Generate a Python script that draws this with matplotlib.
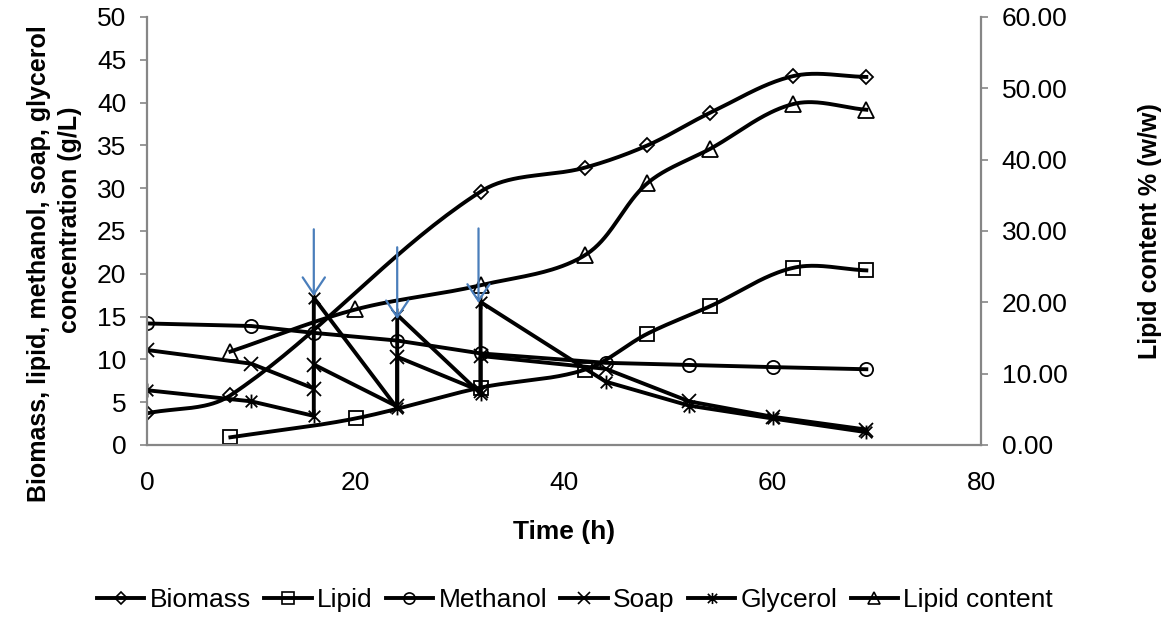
import numpy as np
import matplotlib
matplotlib.use("Agg")
import matplotlib.pyplot as plt
from matplotlib.lines import Line2D
from matplotlib.path import Path

plt.rcParams["font.family"] = ["Liberation Sans", "DejaVu Sans"]

# Biomass / lipid / lipid content (smoothed series)
time_biomass = [0, 8, 32, 42, 48, 54, 62, 69]
biomass = [3.7, 5.8, 29.6, 32.4, 35.0, 38.8, 43.1, 43.0]

time_lipid = [8, 20, 32, 42, 48, 54, 62, 69]
lipid = [0.9, 3.1, 6.7, 8.8, 13.0, 16.2, 20.7, 20.4]
lipid_content = [13.1, 19.0, 22.4, 26.6, 36.7, 41.5, 47.8, 47.0]

# Methanol
time_methanol = [0, 10, 16, 24, 32, 44, 52, 60, 69]
methanol = [14.2, 13.9, 13.1, 12.2, 10.7, 9.6, 9.35, 9.1, 8.85]

# Soap and glycerol (before/after each feed at 16, 24, 32 h)
time_feed = [0, 10, 16, 16, 24, 24, 32, 32, 44, 52, 60, 69]
soap = [11.1, 9.5, 6.6, 9.4, 4.5, 10.3, 6.3, 10.4, 8.9, 5.1, 3.3, 1.8]
glycerol = [6.4, 5.1, 3.4, 17.2, 4.3, 15.2, 6.0, 16.7, 7.4, 4.6, 3.1, 1.5]

# Feeding arrows: x, top, tip
feed_x = [16, 24, 31.8]
feed_top = [25.2, 23.1, 25.3]
feed_tip = [17.4, 14.7, 16.6]

BLACK = "#000000"
GRAY = "#868686"
BLUE = "#4A7EBB"
FS = 19


def smooth(axis, xs, ys, n=40):
    # Excel-like smoothed line, built in screen space so arm lengths follow segment lengths
    pts = axis.transData.transform(np.column_stack([xs, ys]))
    out = []
    for i in range(len(pts) - 1):
        p0 = pts[max(i - 1, 0)]
        p1, p2 = pts[i], pts[i + 1]
        p3 = pts[min(i + 2, len(pts) - 1)]
        seg = np.linalg.norm(p2 - p1)
        t1 = p2 - p0
        t2 = p3 - p1
        t1 = t1 / (np.linalg.norm(t1) or 1)
        t2 = t2 / (np.linalg.norm(t2) or 1)
        c1 = p1 + t1 * seg / 3
        c2 = p2 - t2 * seg / 3
        t = np.linspace(0, 1, n)[:, None]
        out.append((1 - t) ** 3 * p1 + 3 * (1 - t) ** 2 * t * c1
                   + 3 * (1 - t) * t ** 2 * c2 + t ** 3 * p2)
    curve = axis.transData.inverted().transform(np.vstack(out))
    return curve[:, 0], curve[:, 1]


star = Path(
    [(-0.5, -0.5), (0.5, 0.5), (-0.5, 0.5), (0.5, -0.5), (0, -0.6), (0, 0.6)],
    [Path.MOVETO, Path.LINETO] * 3,
)

fig = plt.figure(figsize=(11.69, 6.17), dpi=100)
ax = fig.add_axes([147 / 1169, 1 - 445 / 617, (981 - 147) / 1169, (445 - 17) / 617])
ax2 = ax.twinx()

ax.set_xlim(0, 80)
ax.set_ylim(0, 50)
ax.set_xticks(np.arange(0, 81, 20))
ax.set_yticks(np.arange(0, 51, 5))
ax2.set_ylim(0, 60)
ax2.set_yticks(np.arange(0, 61, 10))
ax2.set_yticklabels([f"{v:.2f}" for v in np.arange(0, 61, 10)])

lw = 2.8
mk = dict(mfc="none", mec=BLACK, mew=1.3, ls="none")

sx, sy = smooth(ax, time_biomass, biomass)
ax.plot(sx, sy, color=BLACK, lw=lw)
ax.plot(time_biomass, biomass, marker="D", ms=7, **mk)

sx, sy = smooth(ax, time_lipid, lipid)
ax.plot(sx, sy, color=BLACK, lw=lw)
ax.plot(time_lipid, lipid, marker="s", ms=9.5, **mk)

ax.plot(time_methanol, methanol, color=BLACK, lw=lw)
ax.plot(time_methanol, methanol, marker="o", ms=9.5, **mk)

ax.plot(time_feed, soap, color=BLACK, lw=lw)
ax.plot(time_feed, soap, marker="x", ms=10, **mk)

ax.plot(time_feed, glycerol, color=BLACK, lw=lw)
ax.plot(time_feed, glycerol, marker=star, ms=10, **mk)

sx, sy = smooth(ax2, time_lipid, lipid_content)
ax2.plot(sx, sy, color=BLACK, lw=lw)
ax2.plot(time_lipid, lipid_content, marker="^", ms=11, **mk)

for fx, ftop, ftip in zip(feed_x, feed_top, feed_tip):
    ax2.annotate(
        "", xy=(fx, ftip), xytext=(fx, ftop), xycoords=ax.transData,
        textcoords=ax.transData,
        arrowprops=dict(arrowstyle="->,head_length=0.6,head_width=0.4",
                        mutation_scale=20, color=BLUE, lw=1.6,
                        shrinkA=0, shrinkB=0),
        zorder=10,
    )

for a in (ax, ax2):
    for s in a.spines.values():
        s.set_visible(False)
ax.spines["left"].set_visible(True)
ax.spines["bottom"].set_visible(True)
ax2.spines["right"].set_visible(True)
for s in (ax.spines["left"], ax.spines["bottom"], ax2.spines["right"]):
    s.set_color(GRAY)
    s.set_linewidth(1.6)

ax.tick_params(axis="y", direction="out", length=5, width=1.2, color=GRAY,
               labelsize=FS, pad=10)
ax.tick_params(axis="x", length=0, labelsize=FS, pad=19)
ax2.tick_params(axis="y", direction="out", length=5, width=1.2, color=GRAY,
                labelsize=FS, pad=10)

fig.text(564 / 1169, 1 - 532 / 617, "Time (h)", ha="center", va="center",
         fontsize=FS, fontweight="bold")
fig.text(39 / 1169, 1 - 264 / 617, "Biomass, lipid, methanol, soap, glycerol",
         ha="center", va="center", rotation=90, fontsize=18, fontweight="bold")
fig.text(70 / 1169, 1 - 220 / 617, "concentration (g/L)",
         ha="center", va="center", rotation=90, fontsize=18, fontweight="bold")
fig.text(1150 / 1169, 1 - 231 / 617, "Lipid content % (w/w)", ha="center",
         va="center", rotation=90, fontsize=18, fontweight="bold")

names = ["Biomass", "Lipid", "Methanol", "Soap", "Glycerol", "Lipid content"]
markers = ["D", "s", "o", "x", star, "^"]
sizes = [6, 8, 8, 8, 8, 9]
handles = [
    Line2D([], [], color=BLACK, lw=lw, marker=m, ms=s, mfc="none", mec=BLACK, mew=1.2)
    for m, s in zip(markers, sizes)
]
fig.legend(handles, names, loc="center", bbox_to_anchor=(575 / 1169, 1 - 600 / 617),
           ncol=6, frameon=False, fontsize=FS, handlelength=1.8,
           handletextpad=0.2, columnspacing=0.5, borderpad=0)

fig.savefig("out.png", dpi=100, facecolor="white")
